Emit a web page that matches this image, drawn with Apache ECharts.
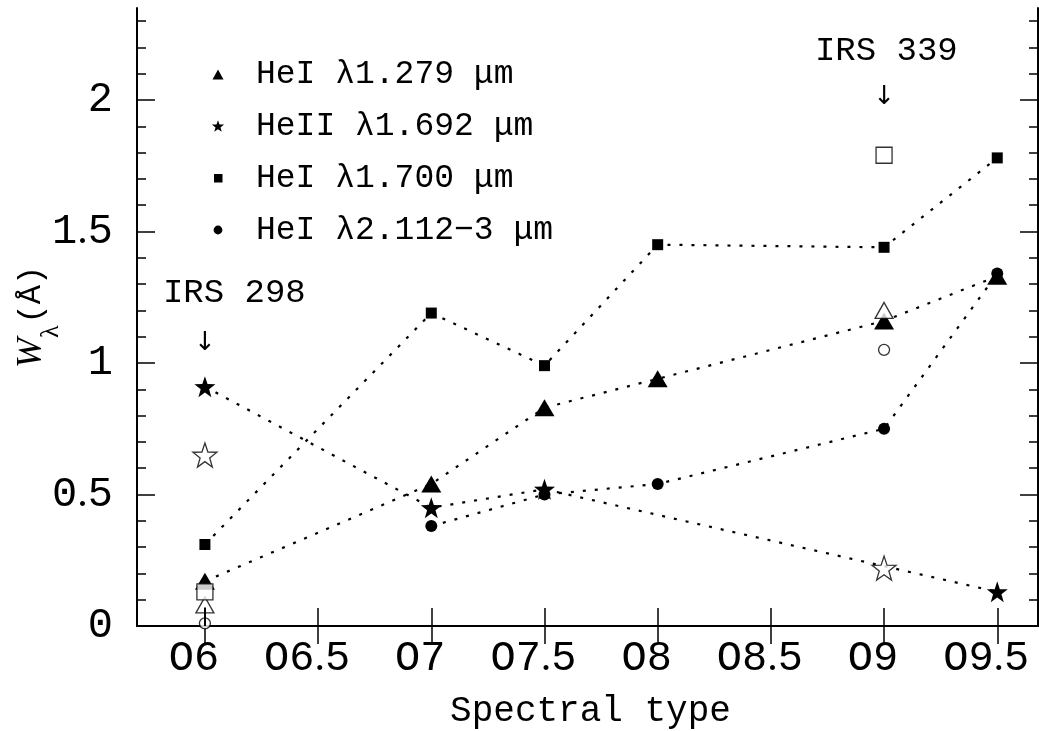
<!DOCTYPE html>
<html>
<head>
<meta charset="utf-8">
<script src="https://cdn.jsdelivr.net/npm/echarts@6/dist/echarts.min.js"></script>
<style>html,body{margin:0;padding:0;background:#fff}#c{width:1039px;height:731px}</style>
</head>
<body>
<div id="c"></div>
<script>
// ---- data ----
const xTickValues = [6, 6.5, 7, 7.5, 8, 8.5, 9, 9.5];
const xTickLabels = ['O6', 'O6.5', 'O7', 'O7.5', 'O8', 'O8.5', 'O9', 'O9.5'];
const yTickValues = [0, 0.5, 1, 1.5, 2];
const yTickLabels = ['0', '0.5', '1', '1.5', '2'];
const yMinorValues = [0.1,0.2,0.3,0.4,0.6,0.7,0.8,0.9,1.1,1.2,1.3,1.4,1.6,1.7,1.8,1.9,2.1,2.2,2.3];

const seriesNames = ['HeI λ1.279 μm', 'HeII λ1.692 μm', 'HeI λ1.700 μm', 'HeI λ2.112−3 μm'];

const x1279 = [6, 7, 7.5, 8, 9, 9.5];
const y1279 = [0.17, 0.54, 0.83, 0.94, 1.16, 1.33];
const x1692 = [6, 7, 7.5, 9.5];
const y1692 = [0.91, 0.45, 0.52, 0.13];
const x1700 = [6, 7, 7.5, 8, 9, 9.5];
const y1700 = [0.31, 1.19, 0.99, 1.45, 1.44, 1.78];
const x2112 = [7, 7.5, 8, 9, 9.5];
const y2112 = [0.38, 0.50, 0.54, 0.75, 1.34];

// open symbols: IRS 298 (O6) and IRS 339 (O9)
const xOpen = [6, 9];
const open1279 = [0.08, 1.20];
const open1692 = [0.65, 0.22];
const open1700 = [0.13, 1.79];
const open2112 = [0.01, 1.05];

const annotText = ['IRS 298', 'IRS 339'];
const annotX = [6.13, 9.01];
const annotY = [1.265, 2.185];
const arrowY = [1.075, 2.01];

// ---- helpers ----
const zip = (xs, ys) => xs.map((x, i) => [x, ys[i]]);
const FONT = 'Liberation Mono';
const dotted = { color: '#000', width: 2.2, type: [3, 9] };

function starPath(cx, cy, R, r) {
  let d = '';
  for (let k = 0; k < 10; k++) {
    const rad = k % 2 === 0 ? R : r;
    const a = -Math.PI / 2 + k * Math.PI / 5;
    d += (k === 0 ? 'M' : 'L') + (cx + rad * Math.cos(a)).toFixed(3) + ',' + (cy + rad * Math.sin(a)).toFixed(3);
  }
  return d + 'Z';
}
const STAR = 'path://' + starPath(50, 52.4, 50, 20);
const STAR_ICON = 'path://M0,0M14,14' + starPath(7, 7.6, 6.4, 2.6);

function periodRich(s) { return s.split('.').join('{p|.}'); }

function lineSeries(name, xs, ys, symbol, size) {
  return {
    name, type: 'line', data: zip(xs, ys), symbol, symbolSize: size,
    itemStyle: { color: '#000' }, lineStyle: dotted, z: 3, animation: false
  };
}
function openSeries(ys, symbol, size) {
  return {
    type: 'scatter', data: zip(xOpen, ys), symbol, symbolSize: size,
    itemStyle: { color: '#fff', borderColor: '#000', borderWidth: 1.3 }, z: 4, animation: false
  };
}
function textSeries(data, fmt, family, size) {
  return {
    type: 'scatter', symbol: 'circle', symbolSize: 0.1, silent: true, animation: false,
    itemStyle: { color: '#fff', opacity: 1 }, z: 5,
    data,
    label: {
      show: true, position: 'inside', formatter: fmt, color: '#000', opacity: 1,
      textBorderWidth: 0, textBorderColor: 'transparent', fontFamily: family, fontSize: size
    }
  };
}

const chart = echarts.init(document.getElementById('c'), null, { renderer: 'canvas' });

const yBase = { type: 'value', min: 0, max: 2.35, splitLine: { show: false } };
const xBase = { type: 'value', min: 5.7, max: 9.68, splitLine: { show: false } };
const periodStyle = { p: { fontFamily: 'Liberation Serif', fontSize: 42, color: '#000' } };

chart.setOption({
  backgroundColor: '#fff',
  animation: false,
  grid: { left: 137, right: 1, top: 8, bottom: 105, containLabel: false, outerBoundsMode: 'none' },
  xAxis: [
    Object.assign({}, xBase, {
      position: 'bottom',
      axisLine: { show: true, lineStyle: { color: '#000', width: 2 } },
      axisTick: { show: true, inside: true, length: 18, customValues: xTickValues, lineStyle: { color: '#000', width: 1.5 } },
      axisLabel: {
        customValues: xTickValues, margin: 12, color: '#000', fontFamily: FONT, fontSize: 42,
        padding: [0, 22, 0, 0], rich: periodStyle,
        formatter: v => { const i = xTickValues.findIndex(t => Math.abs(t - v) < 1e-6); return i >= 0 ? periodRich(xTickLabels[i]) : ''; }
      },
      name: 'Spectral type', nameLocation: 'middle', nameGap: 67, nameMoveOverlap: false,
      nameTextStyle: { color: '#000', fontFamily: FONT, fontSize: 36, padding: [0, 0, 0, 6] }
    }),
    Object.assign({}, xBase, {
      position: 'top',
      axisLine: { show: true, lineStyle: { color: '#000', width: 2 } },
      axisTick: { show: true, inside: true, length: 18, customValues: xTickValues, lineStyle: { color: '#000', width: 1.5 } },
      axisLabel: { show: false }
    })
  ],
  yAxis: [
    Object.assign({}, yBase, {
      position: 'left',
      axisLine: { show: true, lineStyle: { color: '#000', width: 2 } },
      axisTick: { show: true, inside: true, length: 18, customValues: yTickValues, lineStyle: { color: '#000', width: 1.5 } },
      axisLabel: {
        customValues: yTickValues, margin: 24, color: '#000', fontFamily: FONT, fontSize: 42, rich: periodStyle,
        formatter: v => { const i = yTickValues.findIndex(t => Math.abs(t - v) < 1e-6); return i >= 0 ? periodRich(yTickLabels[i]) : ''; }
      },
      name: '{w|W}{l|λ}{p|(Å)}', nameLocation: 'middle', nameRotate: 90, nameGap: 73, nameMoveOverlap: false,
      nameTextStyle: {
        color: '#000',
        rich: {
          w: { fontFamily: 'Liberation Serif', fontStyle: 'italic', fontSize: 36, color: '#000' },
          l: { fontFamily: 'Liberation Serif', fontSize: 26, color: '#000', padding: [38, 2, 0, 0] },
          p: { fontFamily: FONT, fontSize: 32, color: '#000' }
        }
      }
    }),
    Object.assign({}, yBase, {
      position: 'left',
      axisLine: { show: false },
      axisTick: { show: true, inside: true, length: 9, customValues: yMinorValues, lineStyle: { color: '#000', width: 1.5 } },
      axisLabel: { show: false }
    }),
    Object.assign({}, yBase, {
      position: 'right',
      axisLine: { show: true, lineStyle: { color: '#000', width: 2 } },
      axisTick: { show: true, inside: true, length: 18, customValues: yTickValues, lineStyle: { color: '#000', width: 1.5 } },
      axisLabel: { show: false }
    }),
    Object.assign({}, yBase, {
      position: 'right',
      axisLine: { show: false },
      axisTick: { show: true, inside: true, length: 9, customValues: yMinorValues, lineStyle: { color: '#000', width: 1.5 } },
      axisLabel: { show: false }
    })
  ],
  legend: {
    orient: 'vertical', left: 206, top: 49, itemWidth: 14, itemHeight: 14, itemGap: 12,
    selectedMode: false,
    textStyle: {
      color: '#000', fontFamily: FONT, fontSize: 33, lineHeight: 40,
      rich: { s: { width: 26 } }
    },
    formatter: n => '{s|}' + n,
    data: [
      { name: seriesNames[0], icon: 'path://M0,0M14,14M1.5,12.5L7,2.5L12.5,12.5Z' },
      { name: seriesNames[1], icon: STAR_ICON },
      { name: seriesNames[2], icon: 'path://M0,0M14,14M3,3h8.5v8.5h-8.5Z' },
      { name: seriesNames[3], icon: 'path://M0,0M14,14M7,2.6A4.4,4.4 0 1,1 6.99,2.6Z' }
    ]
  },
  series: [
    lineSeries(seriesNames[0], x1279, y1279, 'triangle', [20, 17]),
    lineSeries(seriesNames[1], x1692, y1692, STAR, 21),
    lineSeries(seriesNames[2], x1700, y1700, 'rect', 11),
    lineSeries(seriesNames[3], x2112, y2112, 'circle', 12),
    openSeries(open1279, 'triangle', [18, 16]),
    openSeries(open1692, STAR, 24),
    openSeries(open1700, 'rect', 16),
    Object.assign(openSeries(open2112, 'circle', 11), {
      markLine: {
        silent: true, symbol: 'none', animation: false,
        lineStyle: { color: '#000', width: 2, type: 'solid' }, label: { show: false },
        data: [[{ coord: [xOpen[0], 0] }, { coord: [xOpen[0], 0.07] }]]
      }
    }),
    textSeries(annotText.map((t, i) => ({ value: [annotX[i], annotY[i]], name: t })), p => p.name, FONT, 34),
    textSeries(xOpen.map((x, i) => [x, arrowY[i]]), '↓', 'DejaVu Sans', 26)
  ]
});
</script>
</body>
</html>
